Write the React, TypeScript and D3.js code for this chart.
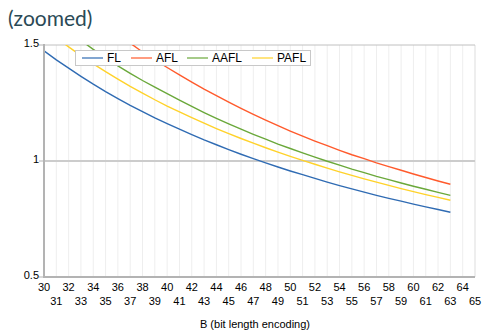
import React from "react";
import * as d3 from "d3";

const B = [30,31,32,33,34,35,36,37,38,39,40,41,42,43,44,45,46,47,48,49,50,51,52,53,54,55,56,57,58,59,60,61,62,63];
const FL = [1.475,1.436,1.400,1.365,1.331,1.299,1.269,1.240,1.213,1.186,1.161,1.137,1.114,1.091,1.070,1.049,1.029,1.010,0.992,0.974,0.957,0.941,0.925,0.909,0.894,0.880,0.866,0.852,0.839,0.827,0.814,0.802,0.791,0.779];
const AFL = [1.843,1.786,1.733,1.683,1.635,1.590,1.548,1.508,1.470,1.436,1.403,1.371,1.340,1.310,1.282,1.254,1.227,1.201,1.176,1.152,1.129,1.107,1.086,1.066,1.046,1.027,1.010,0.992,0.976,0.960,0.944,0.929,0.914,0.900];
const AAFL = [1.649,1.604,1.561,1.520,1.481,1.445,1.410,1.378,1.347,1.318,1.290,1.262,1.235,1.209,1.184,1.160,1.137,1.115,1.094,1.073,1.054,1.035,1.017,0.999,0.982,0.965,0.950,0.934,0.920,0.905,0.891,0.878,0.865,0.852];
const PAFL = [1.572,1.531,1.492,1.454,1.419,1.385,1.353,1.322,1.293,1.264,1.237,1.212,1.187,1.163,1.140,1.118,1.097,1.077,1.057,1.038,1.020,1.003,0.986,0.969,0.953,0.938,0.923,0.909,0.895,0.881,0.868,0.855,0.843,0.831];
const seriesNames = ["FL", "AFL", "AAFL", "PAFL"];
const seriesData = [FL, AFL, AAFL, PAFL];
const colors = ["#2f6bb3", "#ff5a2c", "#6aa83a", "#ffd22a"];
const yTicks = [0.5, 1, 1.5];
const yTickLabels = ["0.5", "1", "1.5"];
const xTicks = d3.range(30, 66);
const title = "(zoomed)";
const xTitle = "B (bit length encoding)";

export default function App() {
  const W = 484, H = 336;
  const x = d3.scaleLinear().domain([30, 65]).range([44, 475]);
  const y = d3.scaleLinear().domain([0.5, 1.5]).range([277, 45]);
  const line = d3.line<number>().x((_, i) => x(B[i])).y((d) => y(d));
  const legendX = [82, 131, 187, 252];
  const font = "'Liberation Sans', Arial, sans-serif";
  return (
    <svg width={W} height={H} style={{ position: "absolute", left: 0, top: 0, background: "#fff" }}>
      <defs>
        <clipPath id="plot">
          <rect x={x(30)} y={y(1.5)} width={x(65) - x(30)} height={y(0.5) - y(1.5)} />
        </clipPath>
      </defs>
      <text x={8} y={26} fontFamily="Lato, 'Open Sans', sans-serif" fontSize={21} fill="#2b4a56">{title}</text>
      {xTicks.slice(1, -1).map((t) => (
        <line key={"g" + t} x1={x(t)} x2={x(t)} y1={y(1.5)} y2={y(0.5)} stroke="#eeeeee" strokeWidth={1} />
      ))}
      <line x1={x(65)} x2={x(65)} y1={y(1.5)} y2={y(0.5)} stroke="#dddddd" strokeWidth={1} />
      <line x1={x(30)} x2={x(65)} y1={y(1.5)} y2={y(1.5)} stroke="#c0c0c0" strokeWidth={1} />
      <line x1={x(30)} x2={x(65)} y1={y(1)} y2={y(1)} stroke="#cccccc" strokeWidth={2} />
      <g clipPath="url(#plot)">
        {seriesData.map((s, i) => (
          <path key={seriesNames[i]} d={line(s) || ""} fill="none" stroke={colors[i]} strokeWidth={1.4} />
        ))}
      </g>
      <line x1={x(30)} x2={x(30)} y1={y(1.5) - 1} y2={y(0.5) + 1} stroke="#b3b3b3" strokeWidth={2} />
      <line x1={x(30)} x2={x(65)} y1={y(0.5)} y2={y(0.5)} stroke="#b3b3b3" strokeWidth={2} />
      {yTicks.map((t, i) => (
        <g key={"yt" + t}>
          <line x1={x(30) - 5} x2={x(30)} y1={y(t)} y2={y(t)} stroke="#b3b3b3" strokeWidth={1} />
          <text x={39} y={y(t) + 2} textAnchor="end" fontFamily={font} fontSize={11} fill="#000">{yTickLabels[i]}</text>
        </g>
      ))}
      {xTicks.map((t, i) => (
        <text key={"xt" + t} x={x(t)} y={i % 2 === 0 ? 291 : 305} textAnchor="middle" fontFamily={font} fontSize={11} fill="#000">{t}</text>
      ))}
      <text x={255} y={328} textAnchor="middle" fontFamily={font} fontSize={11} fill="#000">{xTitle}</text>
      <rect x={75.5} y={50.5} width={235} height={15} fill="#fff" stroke="#c8c8c8" strokeWidth={1} />
      {seriesNames.map((n, i) => (
        <g key={"lg" + n}>
          <line x1={legendX[i]} x2={legendX[i] + 21} y1={58} y2={58} stroke={colors[i]} strokeOpacity={0.6} strokeWidth={2} />
          <text x={legendX[i] + 25} y={62} fontFamily={font} fontSize={12} fill="#000">{n}</text>
        </g>
      ))}
    </svg>
  );
}
